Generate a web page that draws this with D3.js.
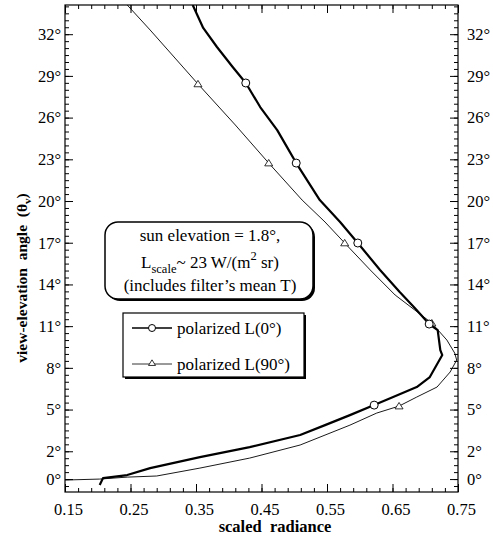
<!DOCTYPE html>
<html lang="en">
<head>
<meta charset="UTF-8">
<style>
    body { margin: 0; background: #fff; }
    svg text { font-family: "Liberation Serif", "Times New Roman", serif; fill: #000; }
    .axis .domain { stroke: none; }
    .axis line { stroke: #000; stroke-width: 1; }
</style>
<script src="https://d3js.org/d3.v7.min.js"></script>
</head>
<body>
<svg id="chart" width="493" height="537"></svg>
<script>
// polarized L(0 deg): scaled radiance vs view-elevation angle
var radL0  = [0.345, 0.361, 0.382, 0.406, 0.426, 0.448, 0.474, 0.489, 0.503, 0.539, 0.570, 0.597, 0.631, 0.661, 0.684, 0.706, 0.719, 0.723, 0.726, 0.707, 0.687, 0.651, 0.622, 0.585, 0.547, 0.509, 0.432, 0.356, 0.280, 0.245, 0.208, 0.203];
var elevL0 = [34.1, 32.45, 31.08, 29.64, 28.49, 26.76, 25.1, 23.88, 22.73, 20.07, 18.49, 16.98, 15.04, 13.45, 12.3, 11.15, 10.72, 9.28, 8.92, 7.34, 6.62, 5.9, 5.32, 4.6, 3.88, 3.17, 2.3, 1.58, 0.79, 0.29, 0.07, -0.43];

// polarized L(90 deg)
var radL90  = [0.245, 0.280, 0.353, 0.410, 0.461, 0.512, 0.547, 0.577, 0.616, 0.654, 0.684, 0.710, 0.733, 0.745, 0.748, 0.738, 0.718, 0.687, 0.660, 0.626, 0.585, 0.509, 0.432, 0.356, 0.290, 0.245, 0.203, 0.150];
var elevL90 = [34.1, 32.3, 28.42, 25.47, 22.73, 20.07, 18.49, 16.98, 15.04, 13.24, 12.16, 11.22, 10.0, 9.06, 8.56, 7.7, 6.62, 5.9, 5.25, 4.75, 3.88, 2.45, 1.51, 0.79, 0.22, 0.14, 0.0, -0.07];

// marker positions
var markRadL0   = [0.426, 0.503, 0.597, 0.706, 0.622];
var markElevL0  = [28.49, 22.73, 16.98, 11.15, 5.32];
var markRadL90  = [0.353, 0.461, 0.577, 0.710, 0.660];
var markElevL90 = [28.42, 22.73, 16.98, 11.22, 5.25];

var xTicks = [0.15, 0.25, 0.35, 0.45, 0.55, 0.65, 0.75];
var yTicks = [0, 2, 5, 8, 11, 14, 17, 20, 23, 26, 29, 32];

var svg = d3.select("#chart");
var pLeft = 65, pRight = 458, pTop = 5, pBottom = 492;

var x = d3.scaleLinear().domain([0.15, 0.75]).range([pLeft, pRight]);
var y = d3.scaleLinear().domain([-0.93, 34.1]).range([pBottom, pTop]);

var xMinor = d3.range(0.15, 0.7501, 0.02);
var yMinor = d3.range(-0.5, 34.01, 0.5);

// minor ticks
svg.append("g").attr("class", "axis").attr("transform", "translate(0," + pBottom + ")")
    .call(d3.axisBottom(x).tickValues(xMinor).tickSize(-4).tickFormat(""));
svg.append("g").attr("class", "axis").attr("transform", "translate(0," + pTop + ")")
    .call(d3.axisTop(x).tickValues(xMinor).tickSize(-4).tickFormat(""));
svg.append("g").attr("class", "axis").attr("transform", "translate(" + pLeft + ",0)")
    .call(d3.axisLeft(y).tickValues(yMinor).tickSize(-4).tickFormat(""));
svg.append("g").attr("class", "axis").attr("transform", "translate(" + pRight + ",0)")
    .call(d3.axisRight(y).tickValues(yMinor).tickSize(-4).tickFormat(""));

// major ticks + labels
var gx = svg.append("g").attr("class", "axis").attr("transform", "translate(0," + pBottom + ")")
    .call(d3.axisBottom(x).tickValues(xTicks).tickSize(-8).tickPadding(11).tickFormat(d3.format(".2f")));
gx.selectAll("text").attr("dx", 3).style("font-size", "16.5px")
    .style("font-family", "'Liberation Serif', serif");
svg.append("g").attr("class", "axis").attr("transform", "translate(0," + pTop + ")")
    .call(d3.axisTop(x).tickValues(xTicks).tickSize(-8).tickFormat(""));

var deg = function(d) { return d + "°"; };
var gl = svg.append("g").attr("class", "axis").attr("transform", "translate(" + pLeft + ",0)")
    .call(d3.axisLeft(y).tickValues(yTicks).tickSize(-8).tickPadding(4).tickFormat(deg));
gl.selectAll("text").style("font-size", "16.5px").style("font-family", "'Liberation Serif', serif");
var gr = svg.append("g").attr("class", "axis").attr("transform", "translate(" + pRight + ",0)")
    .call(d3.axisRight(y).tickValues(yTicks).tickSize(-8).tickPadding(9).tickFormat(deg));
gr.selectAll("text").style("font-size", "16.5px").style("font-family", "'Liberation Serif', serif");

// frame
svg.append("rect").attr("x", pLeft).attr("y", pTop)
    .attr("width", pRight - pLeft).attr("height", pBottom - pTop)
    .attr("fill", "none").attr("stroke", "#000").attr("stroke-width", 1.2);

// curves
var line = d3.line().x(function(d) { return x(d[0]); }).y(function(d) { return y(d[1]); });
svg.append("clipPath").attr("id", "plotclip")
    .append("rect").attr("x", pLeft).attr("y", pTop).attr("width", pRight - pLeft).attr("height", pBottom - pTop);

svg.append("path").datum(d3.zip(radL90, elevL90))
    .attr("clip-path", "url(#plotclip)")
    .attr("d", line).attr("fill", "none").attr("stroke", "#000").attr("stroke-width", 0.9);
svg.append("path").datum(d3.zip(radL0, elevL0))
    .attr("clip-path", "url(#plotclip)")
    .attr("d", line).attr("fill", "none").attr("stroke", "#000").attr("stroke-width", 2.2)
    .attr("stroke-linejoin", "round");

function triPath(cx, cy, s) {
    return "M" + cx + "," + (cy - s * 0.9) + "L" + (cx + s) + "," + (cy + s * 0.7) + "L" + (cx - s) + "," + (cy + s * 0.7) + "Z";
}

svg.selectAll(".tri").data(d3.zip(markRadL90, markElevL90)).enter().append("path")
    .attr("class", "tri")
    .attr("d", function(d) { return triPath(x(d[0]), y(d[1]), 4); })
    .attr("fill", "#fff").attr("stroke", "#000").attr("stroke-width", 0.8);
svg.selectAll(".circ").data(d3.zip(markRadL0, markElevL0)).enter().append("circle")
    .attr("class", "circ")
    .attr("cx", function(d) { return x(d[0]); }).attr("cy", function(d) { return y(d[1]); })
    .attr("r", 4).attr("fill", "#fff").attr("stroke", "#000").attr("stroke-width", 1);

// axis titles
svg.append("text").attr("x", 275).attr("y", 532).attr("text-anchor", "middle")
    .style("font-weight", "bold").style("font-size", "16.5px").style("white-space", "pre")
    .text("scaled  radiance");

var yl = svg.append("text").attr("transform", "translate(27,278) rotate(-90)")
    .attr("text-anchor", "middle").style("font-weight", "bold").style("font-size", "15.5px")
    .style("white-space", "pre");
yl.append("tspan").text("view-elevation  angle  (θ");
yl.append("tspan").attr("dy", 4).style("font-size", "11px").text("v");
yl.append("tspan").attr("dy", -4).text(")");

// annotation box
svg.append("rect").attr("x", 107).attr("y", 224).attr("width", 208).attr("height", 77)
    .attr("rx", 13).attr("fill", "#000");
svg.append("rect").attr("x", 105).attr("y", 222).attr("width", 208).attr("height", 77)
    .attr("rx", 13).attr("fill", "#fff").attr("stroke", "#000").attr("stroke-width", 1.5);

var note = svg.append("g").style("font-size", "17px");
note.append("text").attr("x", 210).attr("y", 241).attr("text-anchor", "middle")
    .text("sun elevation = 1.8°,");
var t2 = note.append("text").attr("x", 210).attr("y", 268).attr("text-anchor", "middle");
t2.append("tspan").text("L");
t2.append("tspan").attr("dy", 5).style("font-size", "12.5px").text("scale");
t2.append("tspan").attr("dy", -5).text("~ 23 W/(m");
t2.append("tspan").attr("dy", -8).style("font-size", "12.5px").text("2");
t2.append("tspan").attr("dy", 8).text(" sr)");
note.append("text").attr("x", 210).attr("y", 291).attr("text-anchor", "middle")
    .text("(includes filter’s mean T)");

// legend
svg.append("rect").attr("x", 125).attr("y", 315).attr("width", 181).attr("height", 64).attr("fill", "#000");
svg.append("rect").attr("x", 123).attr("y", 313).attr("width", 181).attr("height", 64)
    .attr("fill", "#fff").attr("stroke", "#000").attr("stroke-width", 1.2);

var lg = svg.append("g").style("font-size", "17px");
lg.append("line").attr("x1", 132).attr("x2", 172).attr("y1", 328).attr("y2", 328)
    .attr("stroke", "#000").attr("stroke-width", 1.4);
lg.append("circle").attr("cx", 152).attr("cy", 328).attr("r", 3.5)
    .attr("fill", "#fff").attr("stroke", "#000").attr("stroke-width", 1);
lg.append("text").attr("x", 177).attr("y", 334).text("polarized L(0°)");

lg.append("line").attr("x1", 132).attr("x2", 172).attr("y1", 364).attr("y2", 364)
    .attr("stroke", "#000").attr("stroke-width", 0.8);
lg.append("path").attr("d", triPath(152, 363, 3.5))
    .attr("fill", "#fff").attr("stroke", "#000").attr("stroke-width", 0.8);
lg.append("text").attr("x", 177).attr("y", 370).text("polarized L(90°)");
</script>
</body>
</html>
